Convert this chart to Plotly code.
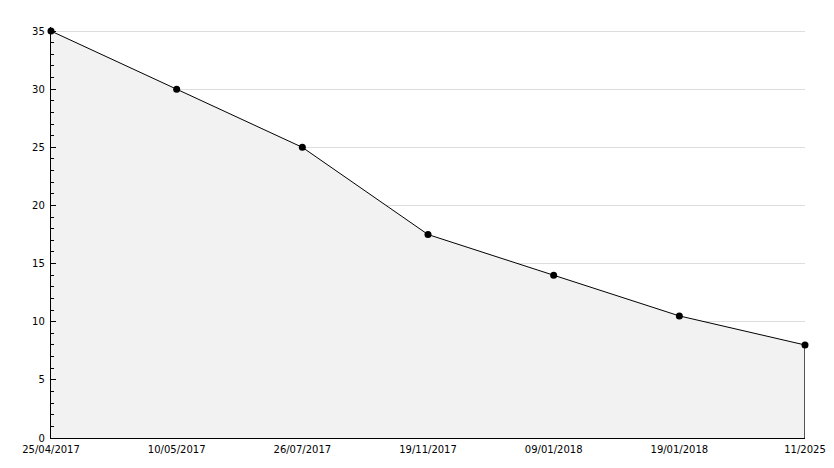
import plotly.graph_objects as go

dates = ["25/04/2017", "10/05/2017", "26/07/2017", "19/11/2017", "09/01/2018", "19/01/2018", "11/2025"]
values = [35, 30, 25, 17.5, 14, 10.5, 8]

fig = go.Figure()
fig.add_trace(go.Scatter(
    x=dates, y=values, mode="lines+markers",
    fill="tozeroy", fillcolor="#f2f2f2",
    line=dict(color="black", width=1),
    marker=dict(symbol="circle", size=7, color="black"),
    cliponaxis=False,
    hoverinfo="x+y", showlegend=False,
))
# closing edge of the area at the last point
fig.add_trace(go.Scatter(
    x=[dates[-1], dates[-1]], y=[values[-1], 0], mode="lines",
    line=dict(color="black", width=1.3), hoverinfo="skip", showlegend=False,
    cliponaxis=False,
))

fig.update_layout(
    width=834, height=468,
    margin=dict(l=51, r=29, t=27, b=30, autoexpand=False),
    paper_bgcolor="white", plot_bgcolor="white",
    font=dict(family="DejaVu Sans", size=10, color="black"),
    xaxis=dict(
        type="category", range=[0, len(dates) - 1],
        showgrid=False, zeroline=False, automargin=False,
        showline=True, linecolor="black", linewidth=1,
        ticks="outside", ticklen=2, tickcolor="rgba(0,0,0,0)", tickangle=0,
    ),
    yaxis=dict(
        range=[0, 35.35], dtick=5, tick0=0, automargin=False,
        showgrid=True, gridcolor="#dddddd", gridwidth=1,
        zeroline=False,
        showline=True, linecolor="black", linewidth=1,
        ticks="inside", ticklen=5, tickcolor="black",
        minor=dict(dtick=1, ticks="inside", ticklen=3, tickcolor="black", showgrid=False),
        ticksuffix=" ",
    ),
)

fig.write_html("out.html", config={"displayModeBar": False},
               post_script="document.body.style.margin='0';")
